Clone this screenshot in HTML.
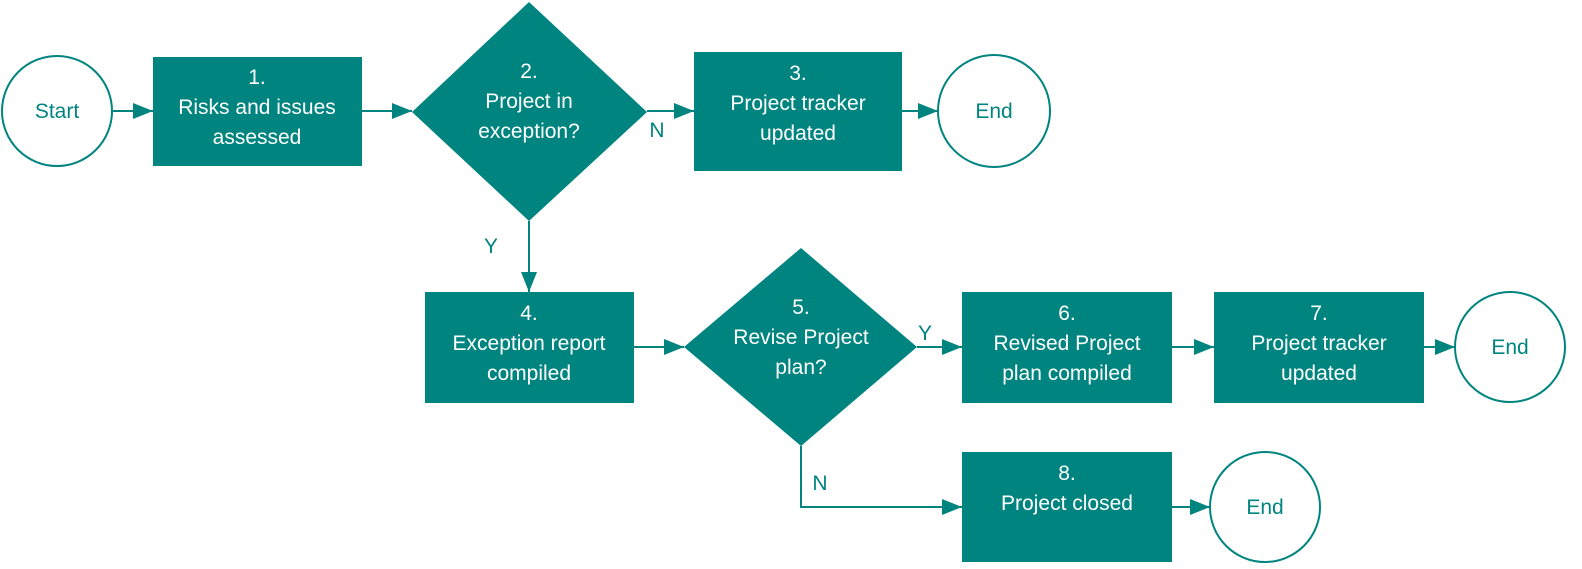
<!DOCTYPE html>
<html><head><meta charset="utf-8"><style>
html,body{margin:0;padding:0;background:#fff;width:1582px;height:569px;overflow:hidden}
text{font-family:"Liberation Sans",sans-serif;font-size:21px;text-anchor:middle}
.w{fill:#fff}.t{fill:#00847f}
</style></head><body>
<svg width="1582" height="569" viewBox="0 0 1582 569" xmlns="http://www.w3.org/2000/svg">
<defs><marker id="a" markerWidth="20" markerHeight="16" refX="20" refY="8" orient="auto" markerUnits="userSpaceOnUse"><path d="M0,0 L20,8 L0,16z" fill="#00847f"/></marker></defs>
<g fill="#00847f">
<rect x="153" y="57" width="209" height="109"/>
<polygon points="529,2 647,112 529,221 412,112"/>
<rect x="694" y="52" width="208" height="119"/>
<rect x="425" y="292" width="209" height="111"/>
<polygon points="801,248 917,347 801,446 684,347"/>
<rect x="962" y="292" width="210" height="111"/>
<rect x="1214" y="292" width="210" height="111"/>
<rect x="962" y="452" width="210" height="110"/>
</g>
<g fill="#fff" stroke="#00847f" stroke-width="2">
<circle cx="57" cy="111" r="55"/>
<circle cx="994" cy="111" r="56"/>
<circle cx="1510" cy="347" r="55"/>
<circle cx="1265" cy="507" r="55"/>
</g>
<g stroke="#00847f" stroke-width="2" fill="none" marker-end="url(#a)">
<line x1="112" y1="111" x2="153" y2="111"/>
<line x1="362" y1="111" x2="412" y2="111"/>
<line x1="647" y1="111" x2="694" y2="111"/>
<line x1="902" y1="111" x2="938" y2="111"/>
<line x1="529" y1="221" x2="529" y2="292"/>
<line x1="634" y1="347" x2="684" y2="347"/>
<line x1="917" y1="347" x2="962" y2="347"/>
<line x1="1172" y1="347" x2="1214" y2="347"/>
<line x1="1424" y1="347" x2="1455" y2="347"/>
<polyline points="801,446 801,507 962,507"/>
<line x1="1172" y1="507" x2="1210" y2="507"/>
</g>
<g class="t">
<text x="57" y="118">Start</text>
<text x="994" y="118">End</text>
<text x="1510" y="354">End</text>
<text x="1265" y="514">End</text>
<text x="657" y="137" font-size="18">N</text>
<text x="491" y="253" font-size="18">Y</text>
<text x="925" y="340" font-size="18">Y</text>
<text x="820" y="490" font-size="18">N</text>
</g>
<g class="w">
<text x="257" y="84">1.</text><text x="257" y="114">Risks and issues</text><text x="257" y="144">assessed</text>
<text x="529" y="78">2.</text><text x="529" y="108">Project in</text><text x="529" y="138">exception?</text>
<text x="798" y="80">3.</text><text x="798" y="110">Project tracker</text><text x="798" y="140">updated</text>
<text x="529" y="320">4.</text><text x="529" y="350">Exception report</text><text x="529" y="380">compiled</text>
<text x="801" y="314">5.</text><text x="801" y="344">Revise Project</text><text x="801" y="374">plan?</text>
<text x="1067" y="320">6.</text><text x="1067" y="350">Revised Project</text><text x="1067" y="380">plan compiled</text>
<text x="1319" y="320">7.</text><text x="1319" y="350">Project tracker</text><text x="1319" y="380">updated</text>
<text x="1067" y="480">8.</text><text x="1067" y="510">Project closed</text>
</g>
</svg>
</body></html>
